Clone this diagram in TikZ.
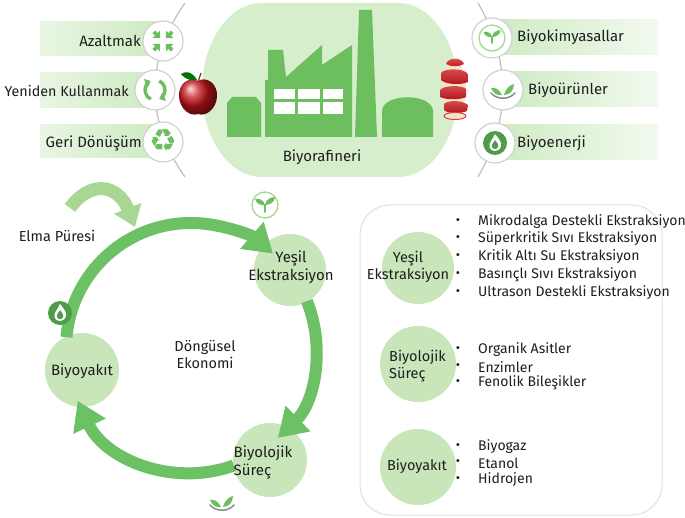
\documentclass[tikz,border=0pt]{standalone}
\usepackage{fontspec}
\setmainfont{Fira Sans}
\newfontfamily\symfont{DejaVu Sans}
\usetikzlibrary{arrows.meta}

\definecolor{gmain}{HTML}{6DBE5F}
\definecolor{gring}{HTML}{6CC164}
\definecolor{glight}{HTML}{C8E6B9}
\definecolor{gpale}{HTML}{D6EECC}
\definecolor{gband}{HTML}{CDEAC1}
\definecolor{gdark}{HTML}{4F9B47}
\definecolor{gsoft}{HTML}{A7D793}
\definecolor{applered}{HTML}{C8161B}
\definecolor{flesh}{HTML}{F4E3C6}
\definecolor{inkc}{HTML}{1E1E1E}

\tikzset{
  lbl/.style={font=\fontsize{15}{17}\selectfont, text=inkc, inner sep=0pt},
  cyctext/.style={font=\fontsize{15}{18}\selectfont, text=inkc, align=center, inner sep=0pt},
  paneltext/.style={font=\fontsize{14.5}{17}\selectfont, text=inkc, align=center, inner sep=0pt},
  itemtext/.style={font=\fontsize{14}{16}\selectfont, text=inkc, anchor=west, inner sep=0pt},
  bullet/.style={font=\fontsize{13}{15}\selectfont, text=inkc, inner sep=0pt},
  bubble/.style={circle, fill=glight, inner sep=0pt, minimum size=#1},
  iconring/.style={circle, draw=black!18, line width=1.2pt, fill=white, minimum size=40pt, inner sep=0pt},
  ringarrow/.style={gring, line width=12pt, -{Triangle[width=34pt,length=28pt]}},
  sprout/.pic={
    \draw[gmain, line width=1.6pt, line cap=round] (0,7) -- (0,0);
    \fill[gmain] (0,0) .. controls (-1,-5) and (-6,-7) .. (-10,-6) .. controls (-9,-2) and (-5,1) .. (0,0);
    \fill[gmain] (0,0) .. controls (1,-6) and (6,-8) .. (10,-8) .. controls (10,-3) and (5,0) .. (0,0);
  },
  bowl/.pic={
    \draw[black!45, line width=1.5pt, line cap=round] (-12,2) .. controls (-6,9) and (6,9) .. (12,2);
    \fill[gmain] (-1,4) .. controls (-4,-2) and (-8,-4) .. (-12,-3) .. controls (-10,2) and (-6,5) .. (-1,4);
    \fill[gmain] (1,4) .. controls (3,-3) and (7,-6) .. (11,-7) .. controls (11,-1) and (7,4) .. (1,4);
  },
  flame/.pic={
    \fill[gdark] (0,0) circle (12);
    \fill[white] (0,8) .. controls (-6,8) and (-7,2) .. (-4,-2) .. controls (-3,-4) and (-1,-6) .. (0,-9)
      .. controls (3,-5) and (7,-1) .. (6,3) .. controls (5,7) and (2,8) .. (0,8) -- cycle;
    \fill[gdark] (0,6) .. controls (-3,6) and (-4,3) .. (-2,0) .. controls (-1,-1) and (0,-2) .. (0,-3)
      .. controls (2,-1) and (4,2) .. (3,4) .. controls (2,6) and (1,6) .. (0,6) -- cycle;
  },
  apple/.pic={
    \shade[ball color=applered] (0,-14) .. controls (8,-19) and (20,-12) .. (19,2)
      .. controls (18,14) and (8,22) .. (0,19) .. controls (-8,22) and (-18,14) .. (-19,2)
      .. controls (-20,-12) and (-8,-19) .. (0,-14) -- cycle;
    \draw[brown!50!black, line width=1.2pt] (0,-13) -- (3,-22);
    \fill[green!45!black] (-1,-15) .. controls (-6,-24) and (-13,-24) .. (-17,-21)
      .. controls (-12,-15) and (-6,-14) .. (-1,-15) -- cycle;
  },
  peeled/.pic={
    \fill[flesh] (0,0) ellipse (12 and 27);
    \shade[top color=applered!70, bottom color=applered] (-8,-24) .. controls (-6,-31) and (8,-31) .. (10,-24) .. controls (6,-21) and (-4,-21) .. (-8,-24) -- cycle;
    \shade[top color=applered!75, bottom color=applered!90!black] (-13,-15) .. controls (-10,-20) and (10,-20) .. (14,-14) -- (14,-6)
      .. controls (8,-3) and (-8,-3) .. (-13,-8) -- cycle;
    \shade[top color=applered!75, bottom color=applered!90!black] (-14,2) .. controls (-10,-3) and (8,-3) .. (12,1) -- (12,9)
      .. controls (6,12) and (-8,12) .. (-14,9) -- cycle;
    \shade[top color=applered!75, bottom color=applered!90!black] (-10,16) .. controls (-6,12) and (8,12) .. (14,17) -- (13,23)
      .. controls (6,26) and (-6,26) .. (-10,22) -- cycle;
    \fill[flesh, draw=applered!80, line width=1pt] (1,28) ellipse (11 and 3.5);
  }
}

\begin{document}
\begin{tikzpicture}[x=1pt,y=-1pt]
\useasboundingbox (0,0) rectangle (685,518);
\fill[white] (0,0) rectangle (685,518);

% ---------- biorefinery band ----------
\fill[gpale] (262,3) -- (398,3) arc[start angle=-90, end angle=90, x radius=60, y radius=87]
  -- (262,177) arc[start angle=90, end angle=270, x radius=60, y radius=87] -- cycle;

% side banners
\fill[left color=gband!45, right color=gband] (40,22) rectangle (165,56);
\fill[left color=gband!45, right color=gband] (40,73) rectangle (160,108);
\fill[left color=gband!45, right color=gband] (40,125) rectangle (165,158);
\fill[left color=gband, right color=gband!25] (490,20) rectangle (658,55);
\fill[left color=gband, right color=gband!25] (500,72) rectangle (658,107);
\fill[left color=gband, right color=gband!25] (490,125) rectangle (658,160);

% connecting threads behind the icon rings
\draw[black!25, line width=1.2pt] (185,3) .. controls (145,60) and (145,120) .. (185,177);
\draw[black!25, line width=1.2pt] (478,3) .. controls (511,60) and (511,120) .. (478,177);

% icon rings
\node[iconring] (reduce) at (163,41) {};
\node[iconring] (reuse) at (155,90) {};
\node[iconring] (recycle) at (163,142) {};
\node[iconring] (chem) at (492,38) {};
\node[iconring] (prod) at (503,90) {};
\node[iconring] (energy) at (495,143) {};

% reduce: four arrows pointing inwards
\foreach \a in {45,135,225,315}
  \draw[gmain, line width=3.8pt, -{Triangle[width=10pt,length=5.5pt]}] (reduce.center) ++(\a:13) -- ++(\a+180:9);
% reuse: two circular arrows
\draw[gmain, line width=3.4pt, -{Triangle[width=9pt,length=5.5pt]}] (reuse.center) ++(115:10) arc[start angle=115, end angle=245, radius=10];
\draw[gmain, line width=3.4pt, -{Triangle[width=9pt,length=5.5pt]}] (reuse.center) ++(295:10) arc[start angle=295, end angle=425, radius=10];
% recycle
\node[text=gmain, font=\symfont\fontsize{31}{31}\selectfont, inner sep=0pt] at ([yshift=1pt]recycle.center) {♻};
% right-hand icons
\draw[gsoft, line width=1.3pt] (chem) circle (13);
\pic[scale=0.85] at ([yshift=1pt]chem.center) {sprout};
\pic at ([yshift=-1pt]prod.center) {bowl};
\pic at (energy.center) {flame};

% apples
\pic at (198,95) {apple};
\pic at (454,88) {peeled};

% factory silhouette
\fill[gmain] (227,137) -- (227,103) -- (232,97) -- (256,97) -- (261,103) -- (261,137) -- cycle;
\fill[gmain] (265,137) -- (265,80) -- (268,80) -- (268,50) -- (283,50) -- (286,77) -- (322,45)
  -- (322,65) -- (352,45) -- (352,137) -- cycle;
\fill[gmain] (355,137) -- (359,10) -- (372,10) -- (377,137) -- cycle;
\fill[gmain] (382,137) -- (382,110) .. controls (385,93) and (430,93) .. (433,110) -- (433,137) -- cycle;
\foreach \x/\w in {274/21, 298/22, 323/20}{
  \fill[white] (\x,89) rectangle ++(\w,10);
  \fill[white] (\x,102) rectangle ++(\w,12);
}
\node[lbl] (bioref) at (322,157) {Biyorafineri};

% banner labels
\node[lbl, anchor=east] (lreduce) at (141,41) {Azaltmak};
\node[lbl, anchor=east, font=\fontsize{14.3}{17}\selectfont] (lreuse) at (129,91) {Yeniden Kullanmak};
\node[lbl, anchor=east] (lrecycle) at (142,143) {Geri Dönüşüm};
\node[lbl, anchor=west] (lchem) at (517,37) {Biyokimyasallar};
\node[lbl, anchor=west] (lprod) at (528,90) {Biyoürünler};
\node[lbl, anchor=west] (lenergy) at (517,143) {Biyoenerji};

% ---------- circular economy loop ----------
\coordinate (loop) at (191,348);
\node[bubble=72pt] (green) at (290,270) {};
\node[bubble=74pt] (fuel) at (82,370) {};
\node[bubble=74pt] (bio) at (270,460) {};

\draw[ringarrow] (loop) ++(-175:125) arc[start angle=-175, end angle=-49, radius=125];
\draw[ringarrow] (loop) ++(-22:125) arc[start angle=-22, end angle=46, radius=125];
\draw[ringarrow] (loop) ++(70:125) arc[start angle=70, end angle=155, radius=125];

% feed arrow
\draw[gsoft, line width=13pt, -{Triangle[width=28pt,length=20pt]}] (70,208) .. controls (90,180) and (118,184) .. (135,227);
\node[cyctext, font=\fontsize{14.5}{17}\selectfont] (puree) at (57,236) {Elma Püresi};

\node[cyctext] (tgreen) at (291,267) {Yeşil\\Ekstraksiyon};
\node[cyctext] (tfuel) at (82,371) {Biyoyakıt};
\node[cyctext, align=left] (tbio) at (263,462) {Biyolojik\\Süreç};
\node[cyctext, font=\fontsize{14.5}{17}\selectfont] (circ) at (205,355) {Döngüsel\\Ekonomi};

\pic at (265,205) {sprout};
\draw[gsoft, line width=1.3pt] (265,205) circle (13);
\pic at (60,313) {flame};
\pic at (222,503) {bowl};

% ---------- product summary panel ----------
\draw[black!12, line width=1pt, rounded corners=30pt] (360,205) rectangle (662,515);
\node[bubble=72pt] (pgreen) at (418,268) {};
\node[bubble=76pt] (pbio) at (418,364) {};
\node[bubble=76pt] (pfuel) at (418,467) {};
\node[paneltext] at (408,267) {Yeşil\\Ekstraksiyon};
\node[paneltext, align=left, anchor=west] at (389,366) {Biyolojik\\Süreç};
\node[paneltext] at (417,466) {Biyoyakıt};

\foreach \y/\t in {222/Mikrodalga Destekli Ekstraksiyon, 239/Süperkritik Sıvı Ekstraksiyon,
    257/Kritik Altı Su Ekstraksiyon, 275/Basınçlı Sıvı Ekstraksiyon, 293/Ultrason Destekli Ekstraksiyon,
    350/Organik Asitler, 367/Enzimler, 383/Fenolik Bileşikler,
    447/Biyogaz, 463/Etanol, 480/Hidrojen}{
  \node[bullet] at (458,\y) {•};
  \node[itemtext] at (478,\y) {\t};
}
\end{tikzpicture}
\end{document}
